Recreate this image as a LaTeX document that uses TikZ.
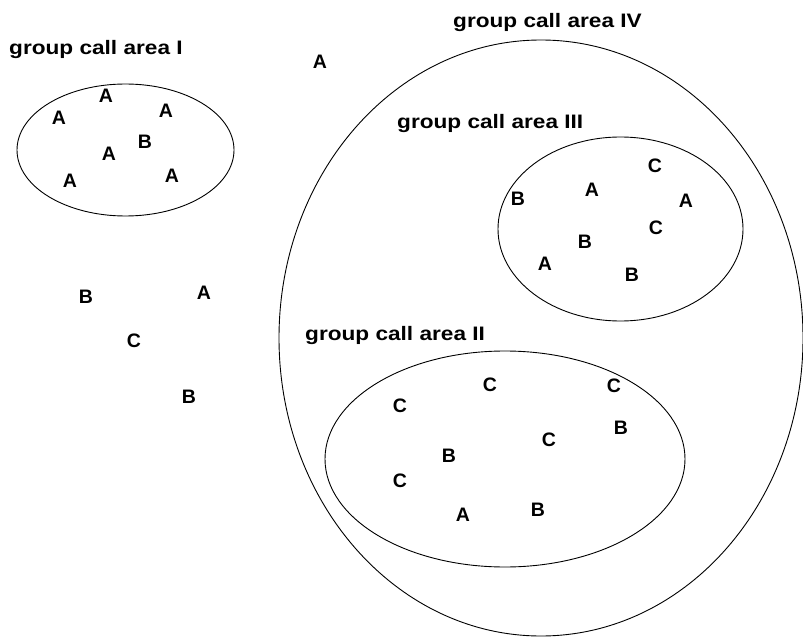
\documentclass[tikz,border=0pt]{standalone}
\usepackage{fontspec}
\setmainfont{Liberation Sans}
\newfontfamily\areafont{Liberation Sans}[FakeStretch=1.16]
\usetikzlibrary{positioning}
\tikzstyle{member} = [font=\fontsize{19.5}{23}\selectfont\bfseries,
			inner sep = 0pt]
\tikzstyle{area} = [font=\areafont\fontsize{19.5}{23}\selectfont\bfseries,
			inner sep = 0pt,
			anchor = base west]
\tikzstyle{border} = [draw, line width = 0.9pt]

\begin{document}
\begin{tikzpicture}[x = 1pt, y = -1pt]
	\useasboundingbox (0,0) rectangle (803,639);
	% group call areas
	\draw [border] (125.5,150) ellipse [x radius = 108.5, y radius = 66];
	\draw [border] (541,338) ellipse [x radius = 262, y radius = 298];
	\draw [border] (620.5,229) ellipse [x radius = 122.5, y radius = 92];
	\draw [border] (505,459) ellipse [x radius = 180, y radius = 108];
	\node [area] (areaI) at (9,55) {group call area I};
	\node [area] (areaIV) at (453,27.5) {group call area IV};
	\node [area] (areaIII) at (397,128.5) {group call area III};
	\node [area] (areaII) at (305,340) {group call area II};
	% area I
	\node [member] (a1) at (106,96) {A};
	\node [member] (a2) at (59,118) {A};
	\node [member] (a3) at (166,111) {A};
	\node [member] (b1) at (145,142) {B};
	\node [member] (a4) at (109,154) {A};
	\node [member] (a5) at (70,181) {A};
	\node [member] (a6) at (172,176) {A};
	% outside
	\node [member] (a7) at (320,62) {A};
	\node [member] (b2) at (86,297) {B};
	\node [member] (a8) at (204,293) {A};
	\node [member] (c1) at (134,341) {C};
	\node [member] (b3) at (189,397) {B};
	% area III
	\node [member] (c2) at (655,166) {C};
	\node [member] (b4) at (518,199) {B};
	\node [member] (a9) at (592,190) {A};
	\node [member] (a10) at (686,201) {A};
	\node [member] (c3) at (656,228) {C};
	\node [member] (b5) at (585,242) {B};
	\node [member] (a11) at (545,264) {A};
	\node [member] (b6) at (632,275) {B};
	% area II
	\node [member] (c4) at (490,385) {C};
	\node [member] (c5) at (614,386) {C};
	\node [member] (c6) at (400,406) {C};
	\node [member] (b7) at (621,428) {B};
	\node [member] (c7) at (549,440) {C};
	\node [member] (b8) at (449,456) {B};
	\node [member] (c8) at (400,481) {C};
	\node [member] (a12) at (463,515) {A};
	\node [member] (b9) at (538,510) {B};
\end{tikzpicture}
\end{document}
